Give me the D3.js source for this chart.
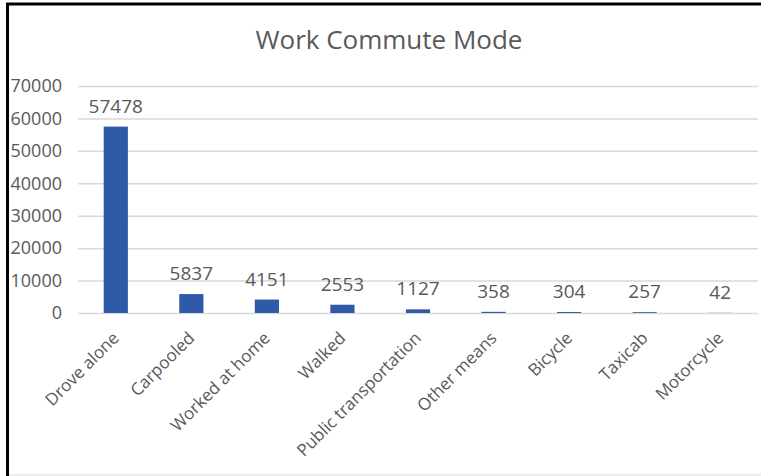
<!DOCTYPE html>
<html>
<head>
<meta charset="utf-8">
<script src="https://cdn.jsdelivr.net/npm/d3@7"></script>
<style>
  html, body { margin: 0; padding: 0; background: #fff; }
  svg { display: block; }
  text { font-family: "Open Sans", "Noto Sans", sans-serif; fill: #595959; }
</style>
</head>
<body>
<svg id="chart" width="761" height="476"></svg>
<script>
// Commute modes and respondent counts
const categories = ["Drove alone", "Carpooled", "Worked at home", "Walked",
  "Public transportation", "Other means", "Bicycle", "Taxicab", "Motorcycle"];
const values = [57478, 5837, 4151, 2553, 1127, 358, 304, 257, 42];
const yTicks = [0, 10000, 20000, 30000, 40000, 50000, 60000, 70000];
const title = "Work Commute Mode";

const svg = d3.select("#chart");
const W = 761, H = 476;
const plot = { left: 78, right: 758, top: 86, bottom: 313 };

// frame
svg.append("line").attr("x1", 7.5).attr("x2", 7.5).attr("y1", 3).attr("y2", H)
  .attr("stroke", "#000").attr("stroke-width", 3);
svg.append("line").attr("x1", 6).attr("x2", W).attr("y1", 4).attr("y2", 4)
  .attr("stroke", "#000").attr("stroke-width", 3);
svg.append("line").attr("x1", 9).attr("x2", W).attr("y1", 475).attr("y2", 475)
  .attr("stroke", "#d9d9d9").attr("stroke-width", 1);

const x = d3.scaleBand().domain(categories).range([plot.left, plot.right]).paddingInner(0.68).paddingOuter(0.34);
const y = d3.scaleLinear().domain([0, 70000]).range([plot.bottom, plot.top]);

// title
svg.append("text").attr("x", 389).attr("y", 49).attr("text-anchor", "middle")
  .style("font-size", "26px").text(title);

// gridlines + y tick labels
const yAxis = d3.axisLeft(y).tickValues(yTicks).tickSize(-(plot.right - plot.left)).tickPadding(16)
  .tickFormat(d3.format("d"));
const gy = svg.append("g").attr("transform", `translate(${plot.left},0)`).call(yAxis);
gy.select(".domain").remove();
gy.selectAll(".tick line").attr("stroke", "#d9d9d9").attr("stroke-width", 1.5);
gy.selectAll(".tick text").style("font-size", "18px").attr("fill", "#595959");

// bars
svg.append("g").selectAll("rect").data(values).join("rect")
  .attr("x", (d, i) => x(categories[i]))
  .attr("width", x.bandwidth())
  .attr("y", d => y(d))
  .attr("height", d => y(0) - y(d))
  .attr("fill", "#2f5aa8");

// value labels
svg.append("g").selectAll("text").data(values).join("text")
  .attr("x", (d, i) => x(categories[i]) + x.bandwidth() / 2)
  .attr("y", d => y(d) - 14)
  .attr("text-anchor", "middle")
  .style("font-size", "19px")
  .text(d => d);

// category labels
const xAxis = d3.axisBottom(x).tickSize(0).tickPadding(0);
const gx = svg.append("g").attr("transform", `translate(0,${plot.bottom})`).call(xAxis);
gx.select(".domain").remove();
gx.selectAll(".tick text")
  .style("font-size", "17px").attr("fill", "#595959")
  .attr("text-anchor", "end")
  .attr("dy", "0.35em")
  .attr("transform", "translate(0,22) rotate(-45)");
</script>
</body>
</html>
